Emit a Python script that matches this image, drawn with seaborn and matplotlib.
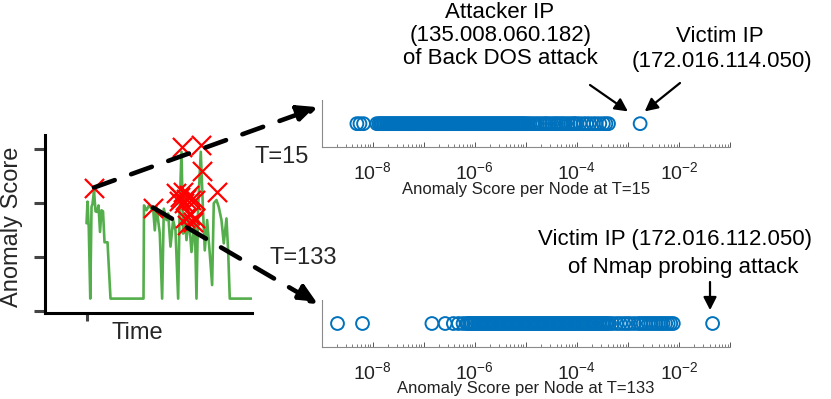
import numpy as np
import pandas as pd
import matplotlib
matplotlib.use('Agg')
import matplotlib.pyplot as plt
import seaborn as sns
from matplotlib.patches import ConnectionPatch
from matplotlib.ticker import LogLocator, FuncFormatter, NullFormatter, FixedLocator

sns.set_style('ticks')
plt.rcParams['font.family'] = ['Liberation Sans', 'DejaVu Sans']
plt.rcParams['mathtext.fontset'] = 'custom'
plt.rcParams['mathtext.rm'] = 'Liberation Sans'
plt.rcParams['mathtext.it'] = 'Liberation Sans:italic'
plt.rcParams['xtick.labelsize'] = 14
plt.rcParams['xtick.major.pad'] = 10

# ---------------- data ----------------
# overall anomaly score over time (left panel)
time_steps = [0, 2, 4.5, 7.5, 10, 12, 15, 18, 21, 24, 27, 30, 33, 36, 42, 48,
              114, 115, 120, 125, 130, 133, 136.6, 140, 146.6, 151.3, 154.6, 160,
              163.3, 168, 173.3, 178, 183.3, 186.6, 190, 193.3, 196.6, 200, 204.6,
              210, 216.6, 220, 223.3, 228.6, 233.3, 236.6, 241.3, 246.6, 251.3,
              254.6, 260, 264.6, 270, 274.6, 280, 283.3, 286.6, 330]
anomaly_scores = [1.62, 2.02, 1.53, 0.23, 1.92, 1.98, 2.22, 1.84, 1.83, 1.95, 1.46,
                  1.86, 1.84, 1.27, 1.27, 0.23,
                  0.23, 1.95, 1.86, 1.95, 1.89, 1.93, 1.49, 1.92, 1.43, 0.23, 1.89,
                  1.68, 1.80, 1.19, 1.68, 1.49, 0.23, 1.99, 2.94, 1.43, 1.80, 1.31,
                  1.74, 1.09, 1.68, 0.23, 1.92, 2.94, 1.80, 1.12, 1.68, 1.06, 0.48,
                  1.99, 2.05, 1.92, 1.68, 1.25, 1.71, 1.12, 0.23, 0.23]

# detected anomalous time steps (red crosses)
detected_T = [15, 133, 191, 230, 232, 262, 179, 187, 193, 199, 205, 195, 185, 209,
              217, 197, 207, 213, 201, 217]
detected_scores = [2.28, 1.91, 3.02, 3.06, 2.58, 2.20, 2.18, 2.10, 2.20, 2.07, 2.14,
                   1.99, 2.03, 2.05, 2.05, 1.72, 1.77, 1.64, 1.59, 1.72]

# per-node anomaly scores (log10) at T=15
t15_log_scores = [
    -8.31, -8.25, -8.18, -7.92,
    -7.88, -7.85, -7.82, -7.79, -7.76, -7.73, -7.70, -7.67, -7.64, -7.61, -7.58,
    -7.55, -7.52, -7.49, -7.46, -7.43, -7.40, -7.37, -7.34, -7.31, -7.28, -7.25,
    -7.22, -7.19, -7.16, -7.13, -7.10, -7.07, -7.04, -7.01, -6.98, -6.95, -6.92,
    -6.89, -6.86, -6.83, -6.80, -6.77, -6.74, -6.71, -6.68, -6.65, -6.62, -6.59,
    -6.56, -6.53, -6.50, -6.47, -6.44, -6.41, -6.38, -6.35, -6.32, -6.29, -6.26,
    -6.23, -6.20, -6.17, -6.14, -6.11, -6.08, -6.05, -6.02, -5.99, -5.96, -5.93,
    -5.90, -5.87, -5.84, -5.81, -5.78, -5.75, -5.72, -5.69, -5.66, -5.63, -5.60,
    -5.57, -5.54, -5.51, -5.48, -5.45, -5.42, -5.39, -5.36, -5.33, -5.30, -5.27,
    -5.24, -5.21, -5.18, -5.15, -5.12, -5.09, -5.06, -5.03, -5.00,
    -4.96, -4.92, -4.87, -4.82, -4.77, -4.72, -4.67, -4.62, -4.59, -4.54, -4.49,
    -4.44, -4.40, -4.36, -4.31, -4.27, -4.22, -4.17, -4.12, -4.07, -4.04, -4.00,
    -3.94, -3.87, -3.81, -3.75, -3.68, -3.62, -3.55, -3.48, -3.43, -3.38,
    -2.76]

# per-node anomaly scores (log10) at T=133
t133_log_scores = [
    -8.69, -8.20,
    -6.84, -6.58, -6.42, -6.32, -6.23,
    -6.16, -6.13, -6.09, -6.06, -6.02, -5.99, -5.95, -5.92, -5.88, -5.85, -5.81,
    -5.78, -5.74, -5.71, -5.67, -5.64, -5.60, -5.57, -5.53, -5.50, -5.46, -5.43,
    -5.39, -5.36, -5.32, -5.29, -5.25, -5.22, -5.18, -5.15, -5.11, -5.08, -5.04,
    -5.01, -4.97, -4.94, -4.90, -4.87, -4.83, -4.80, -4.76, -4.73, -4.69, -4.66,
    -4.62, -4.59, -4.55, -4.52, -4.48, -4.45, -4.41, -4.38, -4.34, -4.31, -4.27,
    -4.24, -4.20, -4.17, -4.13, -4.10, -4.06, -4.03, -3.99, -3.96, -3.92, -3.89,
    -3.85, -3.82, -3.78, -3.75, -3.71, -3.68, -3.64, -3.61, -3.57, -3.54, -3.50,
    -3.47, -3.43, -3.40, -3.36,
    -3.30, -3.22, -3.15, -3.08, -3.02, -2.96, -2.88, -2.80, -2.75, -2.70, -2.65,
    -2.60, -2.55, -2.50, -2.45, -2.40, -2.35, -2.31, -2.26, -2.21, -2.16, -2.11,
    -1.34]

green = '#55ae4c'
blue = '#0072BD'

# ---------------- figure ----------------
fig = plt.figure(figsize=(8.31, 3.99), dpi=100)
ax0 = fig.add_axes([0.0542, 0.2163, 0.249, 0.4454])
ax1 = fig.add_axes([0.3871, 0.6308, 0.4913, 0.1185])
ax2 = fig.add_axes([0.3871, 0.1303, 0.4913, 0.1178])

# left panel
line_df = pd.DataFrame({'time': time_steps, 'score': anomaly_scores})
sns.lineplot(data=line_df, x='time', y='score', ax=ax0, color=green, lw=1.9,
             estimator=None, sort=False)
det_df = pd.DataFrame({'time': detected_T, 'score': detected_scores})
sns.scatterplot(data=det_df, x='time', y='score', ax=ax0, marker='x', color='red',
                s=190, linewidth=1.6, zorder=5)
ax0.set_xlim(-83, 331)
ax0.set_ylim(-0.03, 3.25)
ax0.set_yticks([0, 1, 2, 3])
ax0.set_yticklabels([])
ax0.set_xticks([0])
ax0.set_xticklabels([])
ax0.set_xlabel('')
ax0.set_ylabel('')
for s in ['top', 'right']:
    ax0.spines[s].set_visible(False)
for s in ['left', 'bottom']:
    ax0.spines[s].set_linewidth(2.2)
    ax0.spines[s].set_color('black')
ax0.tick_params(axis='y', direction='out', length=8, width=2.2, color='#444444')
ax0.tick_params(axis='x', direction='out', length=6, width=2.2, color='#444444')

# right panels
def tick_label(v, pos):
    e = int(round(np.log10(v)))
    return (r'$\mathregular{10^{%d}}$' % e) if e in (-8, -6, -4, -2) else ''

def style_log_axis(ax, xlabel):
    ax.set_xscale('log')
    ax.set_xlim(1e-9, 1e-1)
    ax.set_ylim(-1, 1)
    ax.set_yticks([])
    ax.set_ylabel('')
    for s in ['top', 'right']:
        ax.spines[s].set_visible(False)
    for s in ['left', 'bottom']:
        ax.spines[s].set_linewidth(0.8)
        ax.spines[s].set_color('#8a8a8a')
    ax.xaxis.set_major_locator(FixedLocator([10.0 ** e for e in range(-9, 0)]))
    ax.xaxis.set_major_formatter(FuncFormatter(tick_label))
    ax.xaxis.set_minor_locator(LogLocator(base=10, subs=np.arange(2, 10), numticks=30))
    ax.xaxis.set_minor_formatter(NullFormatter())
    ax.tick_params(axis='x', which='major', direction='in', length=3.5, width=0.7,
                   color='#555555', labelsize=14, pad=10, labelcolor='#222222')
    ax.tick_params(axis='x', which='minor', direction='in', length=2, width=0.6,
                   color='#666666')
    ax.set_xlabel(xlabel, fontsize=12, labelpad=-1, color='#222222')

df15 = pd.DataFrame({'score': [10.0 ** v for v in t15_log_scores],
                     'y': [0.0] * len(t15_log_scores)})
sns.scatterplot(data=df15, x='score', y='y', ax=ax1, marker='o', s=85,
                facecolor='none', edgecolor=blue, linewidth=1.4)
style_log_axis(ax1, 'Anomaly Score per Node at T=15')

df133 = pd.DataFrame({'score': [10.0 ** v for v in t133_log_scores],
                      'y': [0.0] * len(t133_log_scores)})
sns.scatterplot(data=df133, x='score', y='y', ax=ax2, marker='o', s=85,
                facecolor='none', edgecolor=blue, linewidth=1.4)
style_log_axis(ax2, 'Anomaly Score per Node at T=133')

# dashed zoom arrows
dash_kw = dict(arrowstyle='-|>,head_length=1.2,head_width=0.55', mutation_scale=10,
               lw=3.3, linestyle=(0, (4.8, 3.8)), color='black', shrinkA=0, shrinkB=0)
c1 = ConnectionPatch(xyA=(detected_T[0], detected_scores[0]), coordsA=ax0.transData,
                     xyB=(-0.009, 0.85), coordsB=ax1.transAxes, **dash_kw)
c1.set_facecolor('black')
fig.add_artist(c1)
c2 = ConnectionPatch(xyA=(detected_T[1], detected_scores[1]), coordsA=ax0.transData,
                     xyB=(-0.009, 0.91), coordsB=ax2.transAxes, **dash_kw)
c2.set_facecolor('black')
fig.add_artist(c2)

# pointer arrows
ap = dict(arrowstyle='-|>,head_length=0.55,head_width=0.28', mutation_scale=14,
          lw=1.6, color='black', shrinkA=0, shrinkB=0)
ax1.annotate('', xy=(10 ** -3.0, 0.52), xycoords='data',
             xytext=(590 / 831, 1 - 85 / 399), textcoords='figure fraction',
             arrowprops=ap, annotation_clip=False)
ax1.annotate('', xy=(10 ** -2.67, 0.52), xycoords='data',
             xytext=(680 / 831, 1 - 83 / 399), textcoords='figure fraction',
             arrowprops=ap, annotation_clip=False)
ax2.annotate('', xy=(10 ** -1.39, 0.57), xycoords='data',
             xytext=(710 / 831, 1 - 282 / 399), textcoords='figure fraction',
             arrowprops=ap, annotation_clip=False)

# texts
tk = dict(ha='center', va='center', fontsize=16, color='black')
fig.text(500 / 831, 1 - 12 / 399, 'Attacker IP', **tk)
fig.text(501 / 831, 1 - 35 / 399, '(135.008.060.182)', **tk)
fig.text(500 / 831, 1 - 58 / 399, 'of Back DOS attack', **tk)
fig.text(720 / 831, 1 - 37 / 399, 'Victim IP', **tk)
fig.text(722 / 831, 1 - 61 / 399, '(172.016.114.050)', **tk)
fig.text(675 / 831, 1 - 240 / 399, 'Victim IP (172.016.112.050)', **tk)
fig.text(683 / 831, 1 - 267.7 / 399, 'of Nmap probing attack', **tk)
fig.text(281.5 / 831, 1 - 156.7 / 399, 'T=15', ha='center', va='center', fontsize=17)
fig.text(270 / 831, 1 - 258.3 / 399, 'T=133', ha='left', va='center', fontsize=17)
fig.text(137.5 / 831, 1 - 333.3 / 399, 'Time', ha='center', va='center', fontsize=17)
fig.text(12.5 / 831, 1 - 226.7 / 399, 'Anomaly Score', ha='center', va='center',
         fontsize=17, rotation=90)

fig.savefig('out.png', dpi=100)
